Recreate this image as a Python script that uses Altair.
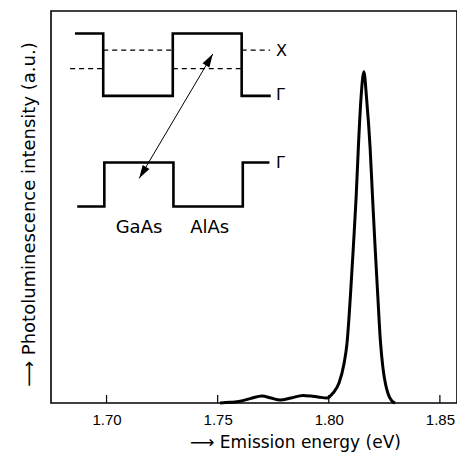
import altair as alt
import pandas as pd

# Photoluminescence spectrum (energy in eV, intensity in a.u., peak = 100)
energy = [1.7511, 1.7555, 1.7601, 1.7650, 1.7700, 1.7740, 1.7781, 1.7830, 1.7884, 1.7920,
          1.7952, 1.7992, 1.8019, 1.8046, 1.8069, 1.8082, 1.8098, 1.8111, 1.8123, 1.8133,
          1.8145, 1.8158, 1.8170, 1.8186, 1.8197, 1.8208, 1.8220, 1.8232, 1.8243, 1.8256,
          1.8268, 1.8282, 1.8298]
intensity = [0.0, 0.2, 0.5, 1.4, 2.1, 1.5, 0.9, 1.5, 2.3, 2.1,
             1.8, 1.5, 3.0, 6.0, 12.0, 18.0, 33.0, 47.6, 62.0, 77.0,
             92.0, 100.0, 92.0, 77.0, 62.0, 47.6, 33.0, 19.0, 11.0, 5.5,
             2.6, 0.8, 0.0]

x_ticks = [1.70, 1.75, 1.80, 1.85]

# Inset band diagram (drawn in the same data space)
cb_x = [1.6858, 1.6985, 1.6985, 1.7298, 1.7298, 1.7608, 1.7608, 1.7739]
cb_y = [111.5, 111.5, 92.7, 92.7, 111.5, 111.5, 92.7, 92.7]
vb_x = [1.6868, 1.6990, 1.6990, 1.7301, 1.7301, 1.7613, 1.7613, 1.7733]
vb_y = [59.3, 59.3, 72.6, 72.6, 59.3, 59.3, 72.6, 72.6]
xb_x1 = [1.6836, 1.6985, 1.7298, 1.7608]
xb_x2 = [1.6985, 1.7298, 1.7608, 1.7736]
xb_y = [100.9, 106.5, 100.9, 106.5]
arrow_x = [1.7147, 1.7478]
arrow_y = [67.8, 105.3]
arrow_angle = [211, 31]
mat_labels = ["GaAs", "AlAs"]
mat_x = [1.7146, 1.7464]
mat_y = [51.4, 51.4]
band_labels = ["X", "Γ", "Γ"]
band_lx = [1.7763, 1.7763, 1.7763]
band_ly = [104.8, 91.5, 71.0]

xs = alt.Scale(domain=[1.675, 1.8577], nice=False, zero=False)
ys = alt.Scale(domain=[0, 118.3], nice=False, zero=False)

spec = pd.DataFrame({"E": energy, "I": intensity})
bands = pd.DataFrame({
    "E": cb_x + vb_x,
    "I": cb_y + vb_y,
    "band": ["CB"] * len(cb_x) + ["VB"] * len(vb_x),
    "o": list(range(len(cb_x))) + list(range(len(vb_x))),
})
xband = pd.DataFrame({"E": xb_x1, "E2": xb_x2, "I": xb_y})
arrow = pd.DataFrame({"E": [arrow_x[0]], "E2": [arrow_x[1]], "I": [arrow_y[0]], "I2": [arrow_y[1]]})
heads = pd.DataFrame({"E": arrow_x, "I": arrow_y, "a": arrow_angle})
mats = pd.DataFrame({"t": mat_labels, "E": mat_x, "I": mat_y})
blabs = pd.DataFrame({"t": band_labels, "E": band_lx, "I": band_ly})
ticks = pd.DataFrame({"E": x_ticks})

x_enc = alt.X("E:Q", scale=xs,
              axis=alt.Axis(values=x_ticks, format=".2f", ticks=False, domain=False, grid=False,
                            labelFont="Liberation Sans", labelFontSize=15, labelColor="black",
                            labelPadding=9,
                            title="⟶  Emission energy  (eV)", titleFont="DejaVu Sans",
                            titleFontSize=17, titleFontWeight="normal", titleColor="black",
                            titleX=244, titleY=44, titleBaseline="alphabetic", titleAlign="center"))
y_enc = alt.Y("I:Q", scale=ys,
              axis=alt.Axis(labels=False, ticks=False, domain=False, grid=False,
                            title="⟶  Photoluminescence intensity  (a.u.)", titleFont="DejaVu Sans",
                            titleFontSize=18, titleFontWeight="normal", titleColor="black",
                            titleAngle=-90, titleX=-17, titleY=203, titleBaseline="alphabetic",
                            titleAlign="center"))

line = alt.Chart(spec).mark_line(interpolate="monotone", color="black", strokeWidth=3).encode(
    x=x_enc, y=y_enc)

band_lines = alt.Chart(bands).mark_line(color="black", strokeWidth=2.6, strokeJoin="miter").encode(
    x=alt.X("E:Q", scale=xs), y=alt.Y("I:Q", scale=ys), detail="band:N", order="o:Q")

dashed = alt.Chart(xband).mark_rule(color="black", strokeWidth=1.3, strokeDash=[5, 4]).encode(
    x=alt.X("E:Q", scale=xs), x2="E2:Q", y=alt.Y("I:Q", scale=ys))

arrow_line = alt.Chart(arrow).mark_rule(color="black", strokeWidth=1).encode(
    x=alt.X("E:Q", scale=xs), x2="E2:Q", y=alt.Y("I:Q", scale=ys), y2="I2:Q")

arrow_heads = alt.Chart(heads).mark_point(
    shape="M0,0 L-0.3,1 L0.3,1 Z", filled=True, color="black", size=700, opacity=1).encode(
    x=alt.X("E:Q", scale=xs), y=alt.Y("I:Q", scale=ys), angle=alt.Angle("a:Q", scale=None))

mat_text = alt.Chart(mats).mark_text(font="DejaVu Sans", fontSize=18, align="center",
                                     baseline="alphabetic", color="black").encode(
    x=alt.X("E:Q", scale=xs), y=alt.Y("I:Q", scale=ys), text="t:N")

band_text = alt.Chart(blabs).mark_text(font="DejaVu Sans", fontSize=16, align="left",
                                       baseline="alphabetic", color="black").encode(
    x=alt.X("E:Q", scale=xs), y=alt.Y("I:Q", scale=ys), text="t:N")

tick_marks = alt.Chart(ticks).mark_rule(color="black", strokeWidth=1.2).encode(
    x=alt.X("E:Q", scale=xs), y=alt.value(392), y2=alt.value(384))

chart = alt.layer(line, band_lines, dashed, arrow_line, arrow_heads, mat_text, band_text,
                  tick_marks).properties(
    width=406, height=392,
    padding={"left": 43, "top": 3, "right": 0, "bottom": 51},
    autosize=alt.AutoSizeParams(type="none"),
    background="white",
).configure_view(stroke="black", strokeWidth=1.6)

chart.save("out.html", embed_options={"renderer": "svg", "actions": False})
